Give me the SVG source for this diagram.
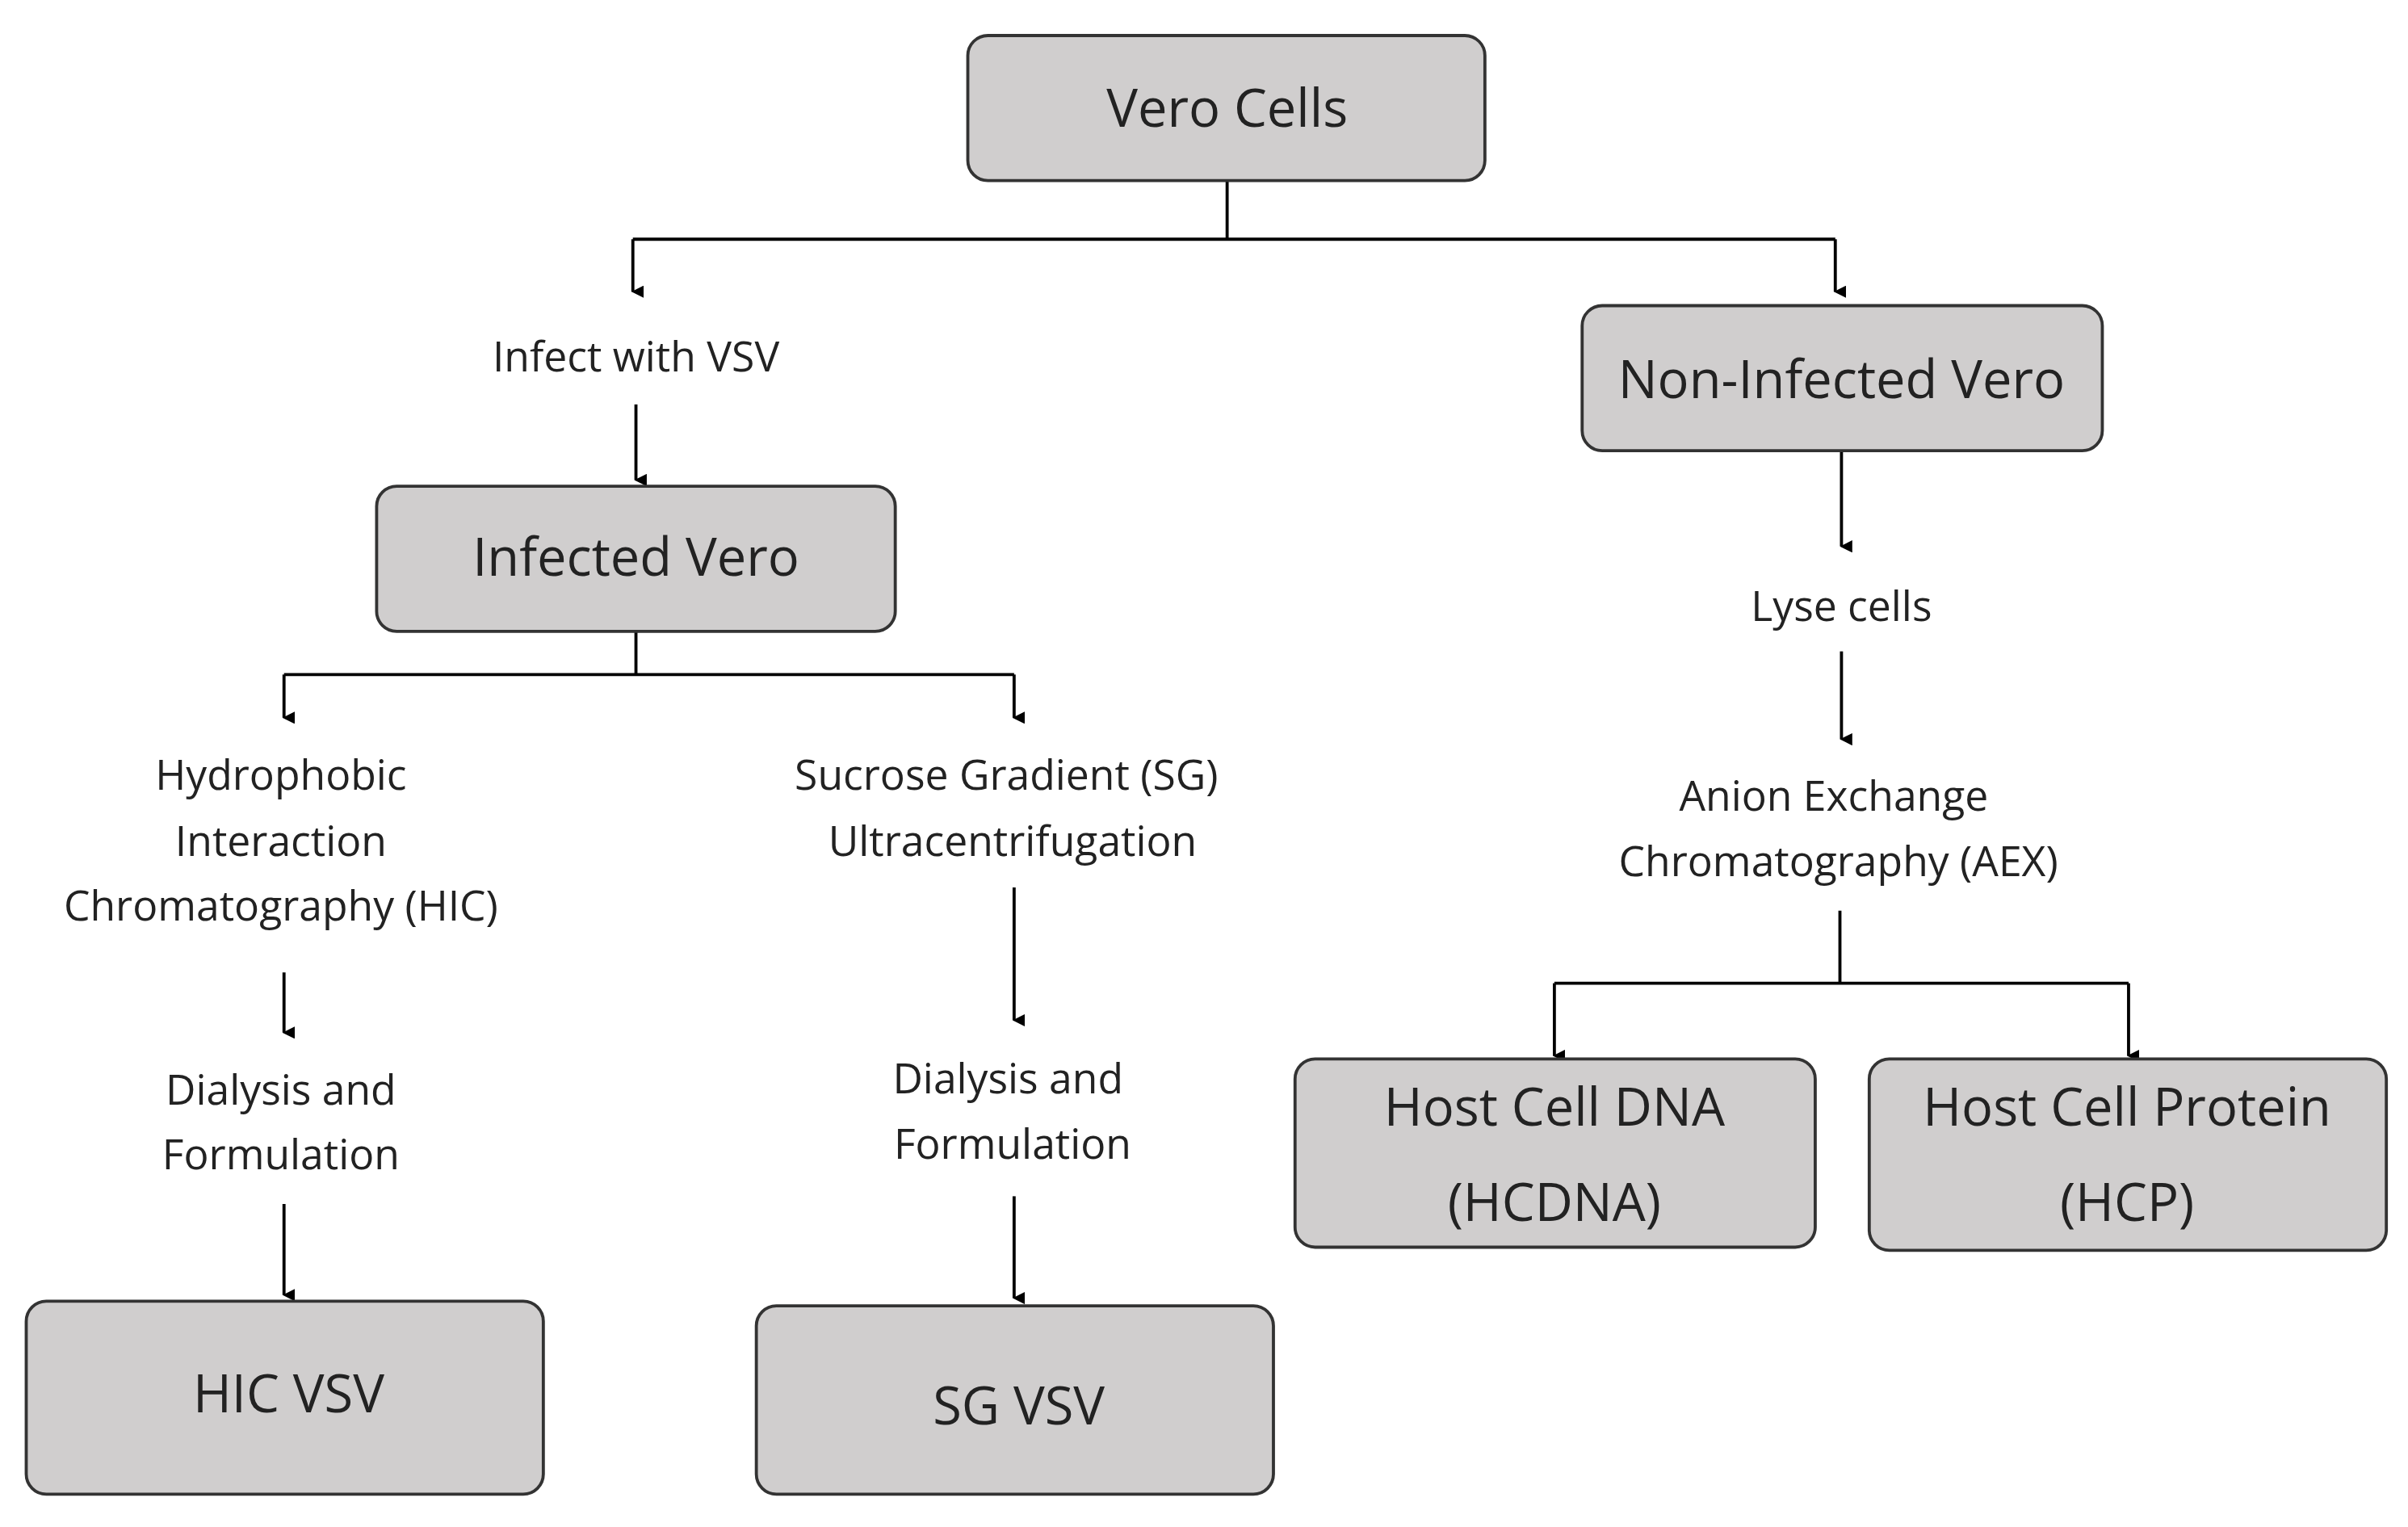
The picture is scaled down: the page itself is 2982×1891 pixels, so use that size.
<svg xmlns="http://www.w3.org/2000/svg" width="2982" height="1891" viewBox="0 0 2982 1891">
<defs>
<marker id="ah" markerWidth="8" markerHeight="8" refX="4" refY="7" orient="auto" markerUnits="userSpaceOnUse" viewBox="0 0 8 8"><path d="M0,0 L8,0 L4,8 z" fill="#000"/></marker>
<style>
.box{fill:#d0cece;stroke:#333;stroke-width:2}
.bt{font-family:"Open Sans","Noto Sans",sans-serif;font-size:34px;fill:#222;text-anchor:middle;dominant-baseline:central}
.lt{font-family:"Open Sans","Noto Sans",sans-serif;font-size:27px;fill:#222;text-anchor:middle;dominant-baseline:central}
.c{fill:none;stroke:#000;stroke-width:2}
</style>
</defs>
<rect width="2982" height="1891" fill="#fff"/>
<g transform="scale(1.9115)">
<g id="connectors">
<path class="c" d="M795,117 V155 M410,155 H1189"/>
<path class="c" d="M410,155 V189" marker-end="url(#ah)"/>
<path class="c" d="M1189,155 V189" marker-end="url(#ah)"/>
<path class="c" d="M412,262 V311" marker-end="url(#ah)"/>
<path class="c" d="M412,409 V437 M184,437 H657"/>
<path class="c" d="M184,437 V465" marker-end="url(#ah)"/>
<path class="c" d="M657,437 V465" marker-end="url(#ah)"/>
<path class="c" d="M184,630 V669" marker-end="url(#ah)"/>
<path class="c" d="M184,780 V839" marker-end="url(#ah)"/>
<path class="c" d="M657,575 V661" marker-end="url(#ah)"/>
<path class="c" d="M657,775 V841" marker-end="url(#ah)"/>
<path class="c" d="M1193,292 V354" marker-end="url(#ah)"/>
<path class="c" d="M1193,422 V479" marker-end="url(#ah)"/>
<path class="c" d="M1192,590 V637 M1007,637 H1379"/>
<path class="c" d="M1007,637 V684" marker-end="url(#ah)"/>
<path class="c" d="M1379,637 V684" marker-end="url(#ah)"/>
</g>
<g id="vero"><rect class="box" x="627" y="23" width="335" height="94" rx="13"/><text class="bt" x="795" y="69">Vero Cells</text></g>
<g id="infect"><text class="lt" x="412" y="230">Infect with VSV</text></g>
<g id="nonInfected"><rect class="box" x="1025" y="198" width="337" height="94" rx="13"/><text class="bt" x="1193" y="245">Non-Infected Vero</text></g>
<g id="infected"><rect class="box" x="244" y="315" width="336" height="94" rx="13"/><text class="bt" x="412" y="360">Infected Vero</text></g>
<g id="hic"><text class="lt" x="182" y="501">Hydrophobic</text><text class="lt" x="182" y="544">Interaction</text><text class="lt" x="182" y="586">Chromatography (HIC)</text></g>
<g id="dial1"><text class="lt" x="182" y="705">Dialysis and</text><text class="lt" x="182" y="747">Formulation</text></g>
<g id="hicvsv"><rect class="box" x="17" y="843" width="335" height="125" rx="13"/><text class="bt" x="187" y="902">HIC VSV</text></g>
<g id="sg"><text class="lt" x="652" y="501">Sucrose Gradient (SG)</text><text class="lt" x="656" y="544">Ultracentrifugation</text></g>
<g id="dial2"><text class="lt" x="653" y="698">Dialysis and</text><text class="lt" x="656" y="740">Formulation</text></g>
<g id="sgvsv"><rect class="box" x="490" y="846" width="335" height="122" rx="13"/><text class="bt" x="660" y="910">SG VSV</text></g>
<g id="lyse"><text class="lt" x="1193" y="392">Lyse cells</text></g>
<g id="aex"><text class="lt" x="1188" y="515">Anion Exchange</text><text class="lt" x="1191" y="557">Chromatography (AEX)</text></g>
<g id="hcdna"><rect class="box" x="839" y="686" width="337" height="122" rx="13"/><text class="bt" x="1007" y="716">Host Cell DNA</text><text class="bt" x="1007" y="778">(HCDNA)</text></g>
<g id="hcp"><rect class="box" x="1211" y="686" width="335" height="124" rx="13"/><text class="bt" x="1378" y="716">Host Cell Protein</text><text class="bt" x="1378" y="778">(HCP)</text></g>
</g>
</svg>
